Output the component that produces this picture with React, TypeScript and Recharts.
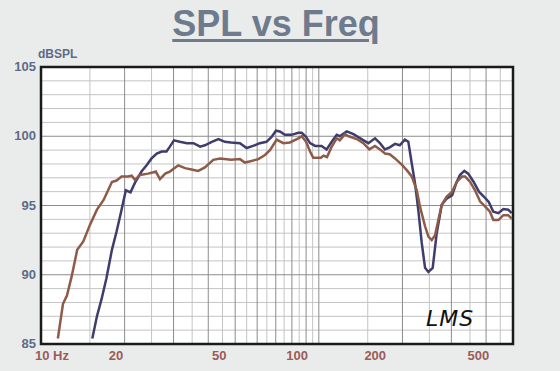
import React from 'react';
import { LineChart, Line, XAxis, YAxis, CartesianGrid, ReferenceArea } from 'recharts';

// ---- data ----
const brownFreq = [11.5, 12.0, 12.4, 12.9, 13.5, 14.2, 15.0, 15.9, 16.8, 18.0, 18.7, 19.5, 20.6, 21.2, 21.8, 22.7, 24.3, 25.4, 25.9, 26.8, 28.0, 29.1, 31.2, 33.0, 34.8, 36.8, 38.9, 41.7, 44.1, 48.3, 52.0, 54.2, 56.8, 60.6, 64.0, 66.7, 70.5, 74.5, 78.7, 84.4, 86.8, 90.0, 93.0, 95.5, 101.8, 104, 107, 111.3, 116, 119, 124.3, 128, 136.9, 144.6, 152, 159.3, 166, 173.1, 180, 188, 198.8, 207.3, 216, 225.2, 231.4, 241.2, 248, 255, 262, 269.3, 277, 288.7, 302, 313.6, 328, 336, 350.6, 365, 380.4, 398, 413, 424.8, 443, 461.5, 480.6, 494.7];
const brownSpl = [85.4, 87.9, 88.5, 89.9, 91.8, 92.4, 93.6, 94.7, 95.4, 96.7, 96.8, 97.1, 97.1, 97.15, 96.85, 97.2, 97.3, 97.4, 97.45, 96.9, 97.3, 97.45, 97.9, 97.7, 97.6, 97.5, 97.75, 98.3, 98.4, 98.3, 98.35, 98.1, 98.2, 98.35, 98.65, 99.0, 99.75, 99.5, 99.55, 99.85, 100.0, 99.6, 98.9, 98.45, 98.45, 98.6, 98.5, 99.25, 99.85, 99.7, 100.15, 100.0, 99.8, 99.5, 99.05, 99.3, 99.05, 98.75, 98.7, 98.4, 97.95, 97.55, 97.1, 96.1, 94.9, 93.5, 92.75, 92.5, 92.85, 93.95, 95.05, 95.65, 96.0, 96.7, 97.1, 97.1, 96.7, 96.1, 95.3, 94.9, 94.55, 93.95, 93.95, 94.3, 94.3, 94.05];

const blueFreq = [15.3, 15.9, 16.5, 17.2, 18.0, 18.7, 19.5, 20.2, 21.0, 21.8, 23.0, 24.0, 25.0, 26.1, 27.2, 28.3, 29.1, 30.1, 31.6, 33.5, 35.4, 37.4, 38.9, 41.2, 43.5, 45.9, 48.3, 52.0, 55.0, 58.0, 61.3, 64.8, 67.6, 70.1, 72.4, 75.5, 79.7, 84.4, 86.8, 90.0, 93.0, 97.0, 102.3, 106.7, 111.3, 116, 119, 126, 133.3, 141, 150.7, 159.3, 166, 173, 180, 188, 195.6, 204, 210, 216, 222, 228, 234.7, 241.2, 248, 257, 265.7, 277, 288.7, 302, 313.6, 322, 334, 345, 361, 377, 392.5, 409, 424.8, 443, 461.5, 480.6, 494.7];
const blueSpl = [85.4, 87.0, 88.2, 89.75, 91.8, 93.1, 94.7, 96.1, 95.95, 96.65, 97.45, 97.9, 98.4, 98.75, 98.9, 98.9, 99.25, 99.7, 99.6, 99.5, 99.5, 99.25, 99.35, 99.6, 99.8, 99.6, 99.55, 99.5, 99.15, 99.3, 99.5, 99.6, 99.95, 100.4, 100.35, 100.1, 100.1, 100.25, 100.25, 99.95, 99.5, 99.3, 99.3, 99.05, 99.6, 100.1, 100.0, 100.35, 100.15, 99.85, 99.5, 99.85, 99.5, 99.05, 99.2, 99.45, 99.35, 99.75, 99.6, 98.05, 96.6, 94.7, 92.3, 90.5, 90.2, 90.5, 93.0, 95.05, 95.5, 95.75, 96.7, 97.2, 97.5, 97.3, 96.7, 96.0, 95.65, 95.25, 94.55, 94.45, 94.75, 94.7, 94.45];

const xTicks = [10, 20, 50, 100, 200, 500];
const yTicks = [85, 90, 95, 100, 105];
const xMajorGrid = [20, 30, 40, 50, 60, 70, 80, 90, 100, 200, 300, 400];
const xMinorGrid = [15, 25, 35, 45, 55, 65, 75, 85, 95, 150, 250, 350, 450];
const yMajorGrid = [90, 95, 100];
const yMinorGrid = [86, 87, 88, 89, 91, 92, 93, 94, 96, 97, 98, 99, 101, 102, 103, 104];

const brownData = brownFreq.map((f, i) => ({ f, v: brownSpl[i] }));
const blueData = blueFreq.map((f, i) => ({ f, v: blueSpl[i] }));

const PLOT_LEFT = 41;
const FONT = '"Liberation Sans", Arial, sans-serif';
const XCOL = '#9b5b57';
const YCOL = '#5d6b87';

const XTick = (props: any) => {
  const { x, y, payload } = props;
  if (payload.value === 10) {
    return (
      <text x={35} y={y + 16} fill={XCOL} fontFamily={FONT} fontWeight="bold" fontSize={13} textAnchor="start">
        10 Hz
      </text>
    );
  }
  const cx = PLOT_LEFT + (x - PLOT_LEFT) * 0.933 - 3;
  return (
    <text x={cx} y={y + 16} fill={XCOL} fontFamily={FONT} fontWeight="bold" fontSize={13} textAnchor="middle">
      {payload.value}
    </text>
  );
};

const YTick = (props: any) => {
  const { y, payload } = props;
  return (
    <text x={36} y={y + 4} fill={YCOL} fontFamily={FONT} fontWeight="bold" fontSize={13} textAnchor="end">
      {payload.value}
    </text>
  );
};

export default function App() {
  return (
    <div style={{ position: 'fixed', left: 0, top: 0, width: 560, height: 371, background: '#eaeceb', overflow: 'hidden' }}>
      <div
        style={{
          position: 'absolute', left: 0, width: 552, top: 2, textAlign: 'center',
          fontFamily: FONT, fontWeight: 'bold', fontSize: 36, color: '#6e7b8d',
          textDecoration: 'underline', textDecorationThickness: 3, textUnderlineOffset: 3, lineHeight: '44px',
        }}
      >
        SPL vs Freq
      </div>
      <div style={{ position: 'absolute', left: 38, top: 47, fontFamily: FONT, fontWeight: 'bold', fontSize: 12, color: YCOL }}>
        dBSPL
      </div>
      <div style={{ position: 'absolute', left: 0, top: 0 }}>
        <LineChart width={560} height={371} margin={{ top: 67, right: 47, bottom: 0, left: 0 }}>
          <CartesianGrid fill="#ffffff" stroke="#c4c4c4" strokeWidth={1} horizontalValues={yMinorGrid} verticalValues={xMinorGrid} />
          <CartesianGrid fill="none" stroke="#8c8c8c" strokeWidth={1} horizontalValues={yMajorGrid} verticalValues={xMajorGrid} />
          <XAxis
            dataKey="f" type="number" scale="log" domain={[10, 500]} ticks={xTicks} allowDataOverflow
            height={27} tickLine={false} axisLine={false} tickSize={0} tickMargin={0} tick={<XTick />} interval={0}
          />
          <YAxis
            type="number" domain={[85, 105]} ticks={yTicks} allowDataOverflow width={41}
            tickLine={false} axisLine={false} tickSize={0} tickMargin={0} tick={<YTick />} interval={0}
          />
          <ReferenceArea x1={10} x2={500} y1={85} y2={105} fill="none" fillOpacity={0} stroke="#1a1a1a" strokeWidth={2.5} ifOverflow="visible" />
          <Line data={blueData} dataKey="v" type="linear" stroke="#3e3d6c" strokeWidth={2.5} dot={false} isAnimationActive={false} />
          <Line data={brownData} dataKey="v" type="linear" stroke="#8e5b48" strokeWidth={2.5} dot={false} isAnimationActive={false} />
        </LineChart>
      </div>
      <div style={{ position: 'absolute', left: 426, top: 306, fontFamily: '"DejaVu Sans", sans-serif', fontStyle: 'italic', fontSize: 22, color: '#111', letterSpacing: 1 }}>
        LMS
      </div>
    </div>
  );
}
